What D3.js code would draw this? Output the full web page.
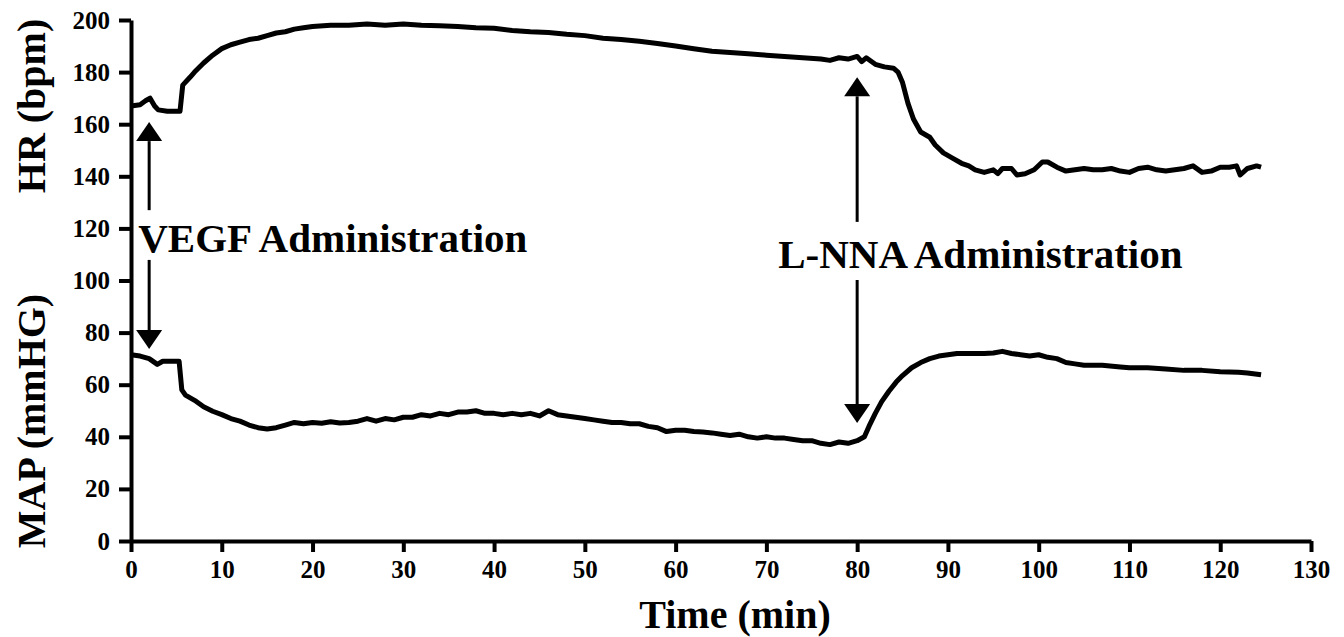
<!DOCTYPE html>
<html>
<head>
<meta charset="utf-8">
<script src="https://cdn.jsdelivr.net/npm/d3@7"></script>
<style>
  body { margin: 0; background: #fff; }
  text { font-family: "Liberation Serif", "Times New Roman", serif; font-weight: bold; fill: #000; }
</style>
</head>
<body>
<div id="chart"></div>
<script>
// values
var hrTime = [0, 1, 1.6, 2.1, 2.6, 3, 4, 5, 5.4, 5.7, 6.5, 7, 8, 9, 10, 11, 12, 13, 14, 15, 16, 17, 18, 19, 20,
  22, 24, 26, 28, 30, 32, 34, 36, 38, 40, 42, 44, 46, 48, 50, 52, 54, 56, 58, 60, 62, 64, 66, 68, 70, 72, 74, 76,
  77, 78, 79, 80, 80.5, 81, 82, 83, 84, 84.5, 85, 85.6, 86.2, 87, 88, 88.6, 89.5, 90.5, 91.5, 92.3, 93, 94, 95,
  95.5, 96, 97, 97.6, 98.5, 99.5, 100.4, 101, 102, 103, 104, 105, 106, 107, 108, 109, 110, 111, 112, 113, 114,
  115, 116, 117, 118, 119, 120, 121, 121.8, 122.2, 123, 124, 124.5]
var hrValues = [167, 167.5, 169, 170, 167, 165.5, 165, 165, 165, 175, 178, 180, 183.5, 186.5, 189, 190.5, 191.5, 192.5, 193, 194, 195, 195.5, 196.5, 197, 197.5,
  198, 198, 198.5, 198, 198.5, 198, 197.8, 197.5, 197, 196.8, 196, 195.5, 195.2, 194.5, 194, 193, 192.5, 191.8, 191, 190, 189, 188, 187.5, 187, 186.5, 186, 185.5, 185,
  184.5, 185.5, 185, 186, 184, 185.5, 183, 182, 181.5, 180, 176, 168, 162, 157, 155, 152, 149, 147, 145, 144, 142.5, 141.5, 142.5,
  141, 143, 143, 140.5, 141, 142.5, 145.5, 145.5, 143.5, 142, 142.5, 143, 142.5, 142.5, 143, 142, 141.5, 143, 143.5, 142.5, 142,
  142.5, 143, 144, 141.5, 142, 143.5, 143.5, 144, 140.5, 143, 144, 143.5]

var mapTime = [0, 1, 2, 2.9, 3.5, 4, 5, 5.3, 5.6, 6, 7, 8, 9, 10, 11, 12, 13, 14, 15, 16, 17, 18, 19, 20, 21, 22, 23, 24,
  25, 26, 27, 28, 29, 30, 31, 32, 33, 34, 35, 36, 37, 38, 39, 40, 41, 42, 43, 44, 45, 46, 47, 48, 49, 50, 51, 52, 53,
  54, 55, 56, 57, 58, 59, 60, 61, 62, 63, 64, 65, 66, 67, 68, 69, 70, 71, 72, 73, 74, 75, 76, 77, 78, 79, 80, 80.8,
  81.3, 82, 82.7, 83.5, 84.3, 85, 86, 87, 88, 89, 90, 91, 92, 93, 94, 95, 96, 97, 98, 99, 100, 101, 102, 103, 104,
  105, 107, 109, 110, 112, 114, 116, 118, 120, 122, 123, 124.5]
var mapValues = [71.5, 71, 70, 67.8, 69, 69, 69, 69, 58, 56, 54, 51.5, 49.8, 48.5, 47, 46, 44.5, 43.5, 43, 43.5, 44.5, 45.5, 45, 45.5, 45.2, 45.8, 45.3, 45.5,
  46, 47, 46, 47, 46.5, 47.5, 47.5, 48.5, 48, 49, 48.5, 49.5, 49.5, 50, 49, 49, 48.5, 49, 48.5, 49, 48, 50, 48.5, 48, 47.5, 47, 46.5, 46, 45.5,
  45.5, 45, 45, 44, 43.5, 42, 42.5, 42.5, 42, 41.8, 41.5, 41, 40.5, 41, 40, 39.5, 40, 39.5, 39.5, 39, 38.5, 38.5, 37.5, 37, 38, 37.5, 38.5, 40,
  44, 49, 53.5, 57.5, 61, 63.5, 66.5, 68.5, 70, 71, 71.5, 72, 72, 72, 72, 72.2, 72.8, 72, 71.5, 71, 71.5, 70.5, 70, 68.5, 68,
  67.5, 67.5, 66.8, 66.5, 66.5, 66, 65.5, 65.5, 65, 64.8, 64.5, 63.8]

var xTicks = [0, 10, 20, 30, 40, 50, 60, 70, 80, 90, 100, 110, 120, 130]
var yTicks = [0, 20, 40, 60, 80, 100, 120, 140, 160, 180, 200]

// annotation arrows and labels, in data units
var annotNames = ['VEGF Administration', 'L-NNA Administration']
var annotTime = [2, 80]
var annotUpTip = [160.8, 178]
var annotUpTail = [127, 122.5]
var annotDownTail = [107.9, 100.2]
var annotDownTip = [73.7, 45.3]
var annotLabelX = [0.8, 71.3]
var annotLabelY = [111, 104.8]

var margin = { top: 20, left: 131, right: 33, bottom: 96 }
var width = 1344 - margin.left - margin.right
var height = 637 - margin.top - margin.bottom

var svg = d3.select('#chart')
  .append('svg')
  .attr('width', 1344)
  .attr('height', 637)

var g = svg.append('g')
  .attr('transform', 'translate(' + margin.left + ',' + margin.top + ')')

var x = d3.scaleLinear().domain([0, 130]).range([0, width])
var y = d3.scaleLinear().domain([0, 200]).range([height, 0])

// axes
g.append('g')
  .attr('transform', 'translate(0,' + height + ')')
  .call(d3.axisBottom(x).tickValues(xTicks).tickSize(11).tickSizeOuter(0).tickPadding(8))
g.append('g')
  .call(d3.axisLeft(y).tickValues(yTicks).tickSize(12).tickSizeOuter(0).tickPadding(9))

g.selectAll('.domain, .tick line')
  .attr('stroke', '#000')
  .attr('stroke-width', 4)
g.selectAll('.tick text')
  .style('font-size', '25px')

// traces
var line = d3.line()
  .x(d => x(d[0]))
  .y(d => y(d[1]))

g.append('path')
  .datum(hrTime.map((t, i) => [t, hrValues[i]]))
  .attr('d', line)
  .attr('fill', 'none')
  .attr('stroke', '#000')
  .attr('stroke-width', 5)
  .attr('stroke-linejoin', 'round')

g.append('path')
  .datum(mapTime.map((t, i) => [t, mapValues[i]]))
  .attr('d', line)
  .attr('fill', 'none')
  .attr('stroke', '#000')
  .attr('stroke-width', 5)
  .attr('stroke-linejoin', 'round')

// arrows and labels
var headW = 13
var headH = 19
annotNames.forEach(function (name, i) {
  var ax = x(annotTime[i])
  // up arrow
  g.append('line')
    .attr('x1', ax).attr('x2', ax)
    .attr('y1', y(annotUpTail[i])).attr('y2', y(annotUpTip[i]) + headH)
    .attr('stroke', '#000').attr('stroke-width', 3)
  g.append('path')
    .attr('d', 'M' + ax + ',' + y(annotUpTip[i]) + 'L' + (ax - headW) + ',' + (y(annotUpTip[i]) + headH) + 'L' + (ax + headW) + ',' + (y(annotUpTip[i]) + headH) + 'Z')
    .attr('fill', '#000')
  // down arrow
  g.append('line')
    .attr('x1', ax).attr('x2', ax)
    .attr('y1', y(annotDownTail[i])).attr('y2', y(annotDownTip[i]) - headH)
    .attr('stroke', '#000').attr('stroke-width', 3)
  g.append('path')
    .attr('d', 'M' + ax + ',' + y(annotDownTip[i]) + 'L' + (ax - headW) + ',' + (y(annotDownTip[i]) - headH) + 'L' + (ax + headW) + ',' + (y(annotDownTip[i]) - headH) + 'Z')
    .attr('fill', '#000')
  g.append('text')
    .attr('x', x(annotLabelX[i]))
    .attr('y', y(annotLabelY[i]))
    .style('font-size', '41px')
    .text(name)
})

// axis titles
svg.append('text')
  .attr('transform', 'translate(45,106) rotate(-90)')
  .attr('text-anchor', 'middle')
  .style('font-size', '40px')
  .text('HR (bpm)')
svg.append('text')
  .attr('transform', 'translate(45,421) rotate(-90)')
  .attr('text-anchor', 'middle')
  .style('font-size', '40px')
  .text('MAP (mmHG)')
svg.append('text')
  .attr('x', 735)
  .attr('y', 628)
  .attr('text-anchor', 'middle')
  .style('font-size', '40px')
  .text('Time (min)')
</script>
</body>
</html>
